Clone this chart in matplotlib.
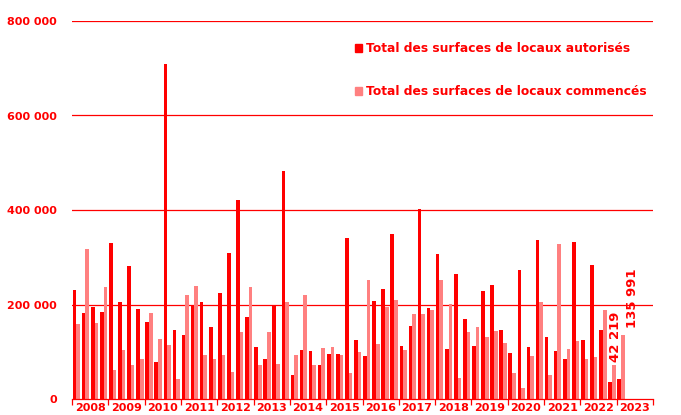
import numpy as np
import matplotlib
matplotlib.use("Agg")
import matplotlib.pyplot as plt
from matplotlib.patches import Patch

# quarterly values, 2008 Q1 -> 2023 Q1
years = [str(y) for y in range(2008, 2024)]
autorises = [230, 181, 194, 184, 330, 206, 281, 191, 164, 79, 710, 145,
             136, 200, 206, 152, 225, 308, 421, 174, 111, 85, 196, 482,
             51, 104, 101, 73, 96, 96, 340, 124, 91, 207, 232, 350,
             113, 155, 402, 192, 307, 106, 264, 170, 113, 228, 242, 145,
             98, 272, 111, 336, 131, 101, 85, 332, 125, 284, 146, 37, 42.219]
commences = [159, 317, 160, 238, 62, 103, 72, 85, 183, 128, 115, 43,
             221, 240, 93, 84, 94, 57, 141, 236, 71, 142, 74, 206,
             94, 220, 71, 108, 111, 94, 55, 99, 252, 116, 194, 210,
             104, 180, 179, 189, 251, 202, 44, 142, 152, 132, 143, 118,
             55, 24, 91, 206, 51, 328, 106, 123, 85, 88, 189, 71, 135.991]
autorises = np.array(autorises) * 1000
commences = np.array(commences) * 1000

RED = "#ff0000"
PINK = "#ff8080"

fig = plt.figure(figsize=(6.81, 4.15), dpi=100)
ax = fig.add_axes([72 / 681, 16 / 415, 581 / 681, 378 / 415])

x = np.arange(len(autorises))
w = 0.4
ax.bar(x + 0.08, autorises, width=w, align="edge", color=RED, zorder=3)
ax.bar(x + 0.08 + w, commences, width=w, align="edge", color=PINK, zorder=2)

ax.set_xlim(0, 64)
ax.set_ylim(0, 800000)

for v in [200000, 400000, 600000, 800000]:
    ax.axhline(v, color=RED, lw=0.9, zorder=1)

ax.set_yticks([0, 200000, 400000, 600000, 800000])
ax.set_yticklabels(["0", "200 000", "400 000", "600 000", "800 000"])
ax.tick_params(axis="y", length=0, pad=11, labelcolor=RED, labelsize=8)
for t in ax.get_yticklabels():
    t.set_fontweight("bold")

ax.set_xticks(np.arange(0, 65, 4))
ax.set_xticklabels([])
ax.set_xticks(np.arange(2, 64, 4), minor=True)
ax.set_xticklabels(years, minor=True)
ax.tick_params(axis="x", which="major", length=4, color=RED, width=0.9)
ax.tick_params(axis="x", which="minor", length=0, pad=3, labelcolor=RED, labelsize=8)
for t in ax.get_xticklabels(minor=True):
    t.set_fontweight("bold")

for s in ["top", "right", "left"]:
    ax.spines[s].set_visible(False)
ax.spines["bottom"].set_color(RED)
ax.spines["bottom"].set_linewidth(0.9)

# value labels for the last quarter
ax.text(59.87, 79000, "42 219", rotation=90, ha="center", va="bottom",
        color=RED, fontsize=9.5, fontweight="bold")
ax.text(61.74, 151000, "135 991", rotation=90, ha="center", va="bottom",
        color=RED, fontsize=9.5, fontweight="bold")

handles = [Patch(color=RED), Patch(color=PINK)]
labels = ["Total des surfaces de locaux autorisés", "Total des surfaces de locaux commencés"]
fig.legend(handles, labels, loc="upper left", bbox_to_anchor=(344 / 681, 1 - 31 / 415),
           frameon=False, handlelength=0.6, handleheight=0.6, handletextpad=0.3,
           labelspacing=2.45, labelcolor=RED, prop={"weight": "bold", "size": 8.8})

fig.savefig("out.png", dpi=100)
